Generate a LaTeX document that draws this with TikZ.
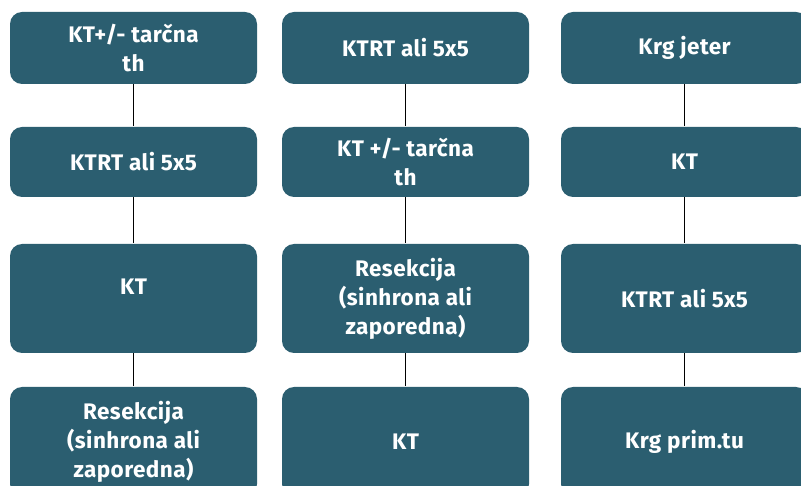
\documentclass[tikz,border=0pt]{standalone}
\usepackage{fontspec}
\setmainfont{Fira Sans}[LetterSpace=2]
\usetikzlibrary{positioning}
\definecolor{boxteal}{HTML}{2B5E70}

\begin{document}
\begin{tikzpicture}[x=1pt,y=1pt,line width=1pt]
\tikzstyle{block}=[rectangle,fill=boxteal,rounded corners=12pt,align=center,text=white,font=\bfseries\fontsize{22.5}{29}\selectfont,minimum width=247pt,minimum height=72pt,inner sep=0pt]
\tikzstyle{low}=[minimum height=70pt]
\tikzstyle{tall}=[minimum height=109pt]
\useasboundingbox (0,0) rectangle (801,-486);

% left column
\node[block]                        (A1) at (133.5,-48) {KT+/- tarčna\\th};
\node[block,low,below=42pt of A1]  (A2) {KTRT ali 5x5};
\node[block,tall,below=46pt of A2] (A3) {\raisebox{12pt}[\height][\depth]{KT}};
\node[block,tall,below=33pt of A3] (A4) {Resekcija\\(sinhrona ali\\zaporedna)};

% middle column
\node[block]                        (B1) at (405.5,-48) {KTRT ali 5x5};
\node[block,low,below=42pt of B1]  (B2) {KT +/- tarčna\\th};
\node[block,tall,below=46pt of B2] (B3) {Resekcija\\(sinhrona ali\\zaporedna)};
\node[block,tall,below=33pt of B3] (B4) {KT};

% right column
\node[block]                        (C1) at (684.5,-48) {Krg jeter};
\node[block,low,below=42pt of C1]  (C2) {KT};
\node[block,tall,below=46pt of C2] (C3) {KTRT ali 5x5};
\node[block,tall,below=33pt of C3] (C4) {Krg prim.tu};

\foreach \c in {A,B,C}{
  \draw (\c1) -- (\c2);
  \draw (\c2) -- (\c3);
  \draw (\c3) -- (\c4);
}
\end{tikzpicture}
\end{document}
